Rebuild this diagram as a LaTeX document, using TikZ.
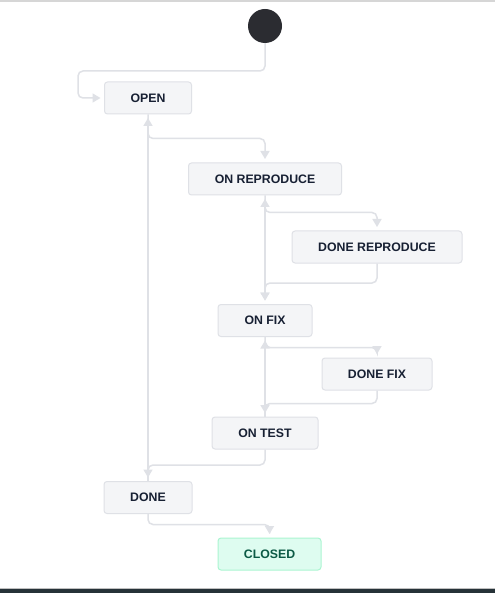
\documentclass[tikz,border=0pt]{standalone}
\usepackage{fontspec}
\setmainfont{Liberation Sans}
\usetikzlibrary{arrows.meta}
\definecolor{lineC}{HTML}{DFE1E6}
\definecolor{boxF}{HTML}{F4F5F7}
\definecolor{boxD}{HTML}{DFE1E6}
\definecolor{txtC}{HTML}{172033}
\definecolor{okF}{HTML}{DEFCF0}
\definecolor{okD}{HTML}{ABF5D1}
\definecolor{okT}{HTML}{0B5A45}
\definecolor{startC}{HTML}{2B2C31}
\definecolor{barC}{HTML}{263238}
\definecolor{topC}{HTML}{D6D6D6}
\begin{document}
\begin{tikzpicture}[x=1pt,y=-1pt,
  state/.style={draw=boxD,fill=boxF,line width=1pt,rounded corners=3pt,
    minimum height=32pt,inner sep=0pt,text=txtC,
    font=\fontsize{12.3}{14}\selectfont\bfseries},
  donestate/.style={state,draw=okD,fill=okF,text=okT},
  conn/.style={draw=lineC,line width=1.5pt,rounded corners=5pt},
  arr/.style={-{Triangle[width=9pt,length=8pt]},shorten >=3.5pt},
  arrb/.style={{Triangle[width=9pt,length=8pt]}-{Triangle[width=9pt,length=8pt]},shorten >=3.5pt,shorten <=3.5pt}]
\useasboundingbox (0,0) rectangle (495,593);
\fill[white] (0,0) rectangle (495,593);
\fill[topC] (0,0) rectangle (495,2);
\fill[barC] (0,589) rectangle (495,593);
\fill[gray!50] (0,588) rectangle (495,589);

\node[circle,fill=startC,minimum size=34pt,inner sep=0pt] (start) at (265,26) {};
\node[state,minimum width=87pt] (open) at (148,98) {OPEN};
\node[state,minimum width=153pt] (onrep) at (265,179) {ON REPRODUCE};
\node[state,minimum width=170pt] (donerep) at (377,247) {DONE REPRODUCE};
\node[state,minimum width=94pt] (onfix) at (265,320.5) {ON FIX};
\node[state,minimum width=110pt] (donefix) at (377,374) {DONE FIX};
\node[state,minimum width=106pt] (ontest) at (265,433) {ON TEST};
\node[state,minimum width=88pt] (done) at (148,497.5) {DONE};
\node[donestate,minimum width=103pt] (closed) at (269.5,554) {CLOSED};

\coordinate (k1) at (78,71);
\draw[conn,arr] (start.south) |- (k1) |- (open.west);
\draw[conn,arr] (open.south) |- ([yshift=24pt]onrep.north) -- (onrep.north);
\draw[conn,arr] (done.north) -- (open.south);
\draw[conn,arr] (onrep.south) |- ([yshift=18pt]donerep.north) -- (donerep.north);
\draw[conn,arrb] (onrep.south) -- (onfix.north);
\draw[conn,arr] (donerep.south) |- ([yshift=21pt]onfix.north) -- (onfix.north);
\draw[conn,arr] (onfix.south) |- ([yshift=10pt]donefix.north) -- (donefix.north);
\draw[conn,arr] (donefix.south) |- ([yshift=13pt]ontest.north) -- (ontest.north);
\draw[conn,arr] (ontest.north) -- (onfix.south);
\draw[conn,arr] (ontest.south) |- ([yshift=16pt]done.north) -- (done.north);
\draw[conn,arr] (done.south) |- ([yshift=13pt]closed.north) -- (closed.north);
\end{tikzpicture}
\end{document}
